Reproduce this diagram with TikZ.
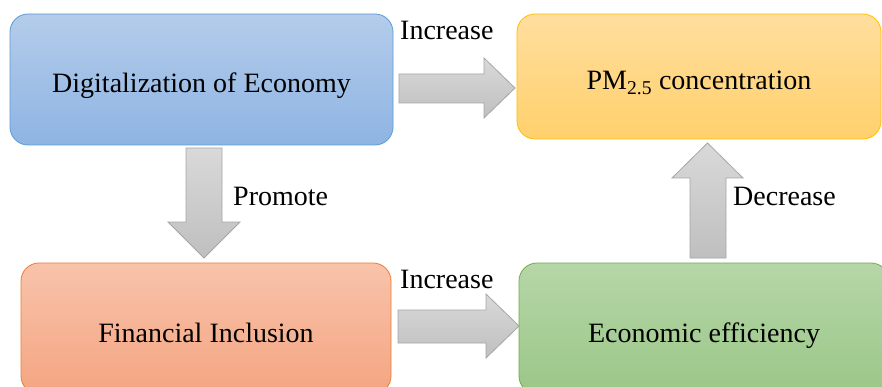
\documentclass[tikz,border=0pt]{standalone}
\usepackage{fontspec}
\setmainfont{Liberation Serif}
\usepackage{xcolor}
\usetikzlibrary{positioning}

\definecolor{digTop}{HTML}{B4CCEA}
\definecolor{digBot}{HTML}{8EB4E3}
\definecolor{digLine}{HTML}{5B9BD5}
\definecolor{pmTop}{HTML}{FFDE9E}
\definecolor{pmBot}{HTML}{FFD06C}
\definecolor{pmLine}{HTML}{FFC000}
\definecolor{finTop}{HTML}{F8C3AA}
\definecolor{finBot}{HTML}{F4A582}
\definecolor{finLine}{HTML}{ED7D31}
\definecolor{effTop}{HTML}{B6D6A8}
\definecolor{effBot}{HTML}{9AC787}
\definecolor{effLine}{HTML}{70AD47}
\definecolor{arrTop}{HTML}{D9D9D9}
\definecolor{arrBot}{HTML}{BFBFBF}
\definecolor{arrLine}{HTML}{A6A6A6}

\begin{document}
\begin{tikzpicture}[x=1pt, y=-1pt,
  box/.style={rectangle, rounded corners=18pt, line width=0.8pt, inner sep=0pt,
    text depth=0pt, text height=27pt, font=\fontsize{28}{34}\selectfont},
  fat/.style={draw=arrLine, line width=0.8pt, top color=arrTop, bottom color=arrBot},
  lbl/.style={anchor=base west, inner sep=0pt, font=\fontsize{28}{34}\selectfont}]

\useasboundingbox (0,0) rectangle (882,387);
\fill[white] (0,0) rectangle (882,387);
\clip (0,0) rectangle (882,387);

% boxes
\node[box, draw=digLine, top color=digTop, bottom color=digBot,
  minimum width=383pt, minimum height=131pt] (dig) at (201.5,79.5) {Digitalization of Economy};
\node[box, draw=pmLine, top color=pmTop, bottom color=pmBot,
  minimum width=364pt, minimum height=125pt] (pm) at (699,76.5) {PM\textsubscript{2.5} concentration};
\node[box, draw=finLine, top color=finTop, bottom color=finBot,
  minimum width=370pt, minimum height=131pt] (fin) at (206,328.5) {Financial Inclusion};
\node[box, draw=effLine, top color=effTop, bottom color=effBot,
  minimum width=370pt, minimum height=131pt] (eff) at (704,328.5) {Economic efficiency};

% block arrows
\draw[fat] (399,74) -- (484,74) -- (484,58) -- (515,88) -- (484,118) -- (484,103) -- (399,103) -- cycle;
\draw[fat] (186,148) -- (222,148) -- (222,222) -- (240,222) -- (204,258) -- (168,222) -- (186,222) -- cycle;
\draw[fat] (398,310) -- (486,310) -- (486,294) -- (519,326) -- (486,358) -- (486,343) -- (398,343) -- cycle;
\draw[fat] (690,258) -- (690,178) -- (672,178) -- (707.5,143) -- (743,178) -- (726,178) -- (726,258) -- cycle;

% labels
\node[lbl] (incAtxt) at (400,40) {Increase};
\node[lbl] (promtxt) at (233,205) {Promote};
\node[lbl] (incBtxt) at (400,288) {Increase};
\node[lbl] (dectxt) at (733,205) {Decrease};
\end{tikzpicture}
\end{document}
